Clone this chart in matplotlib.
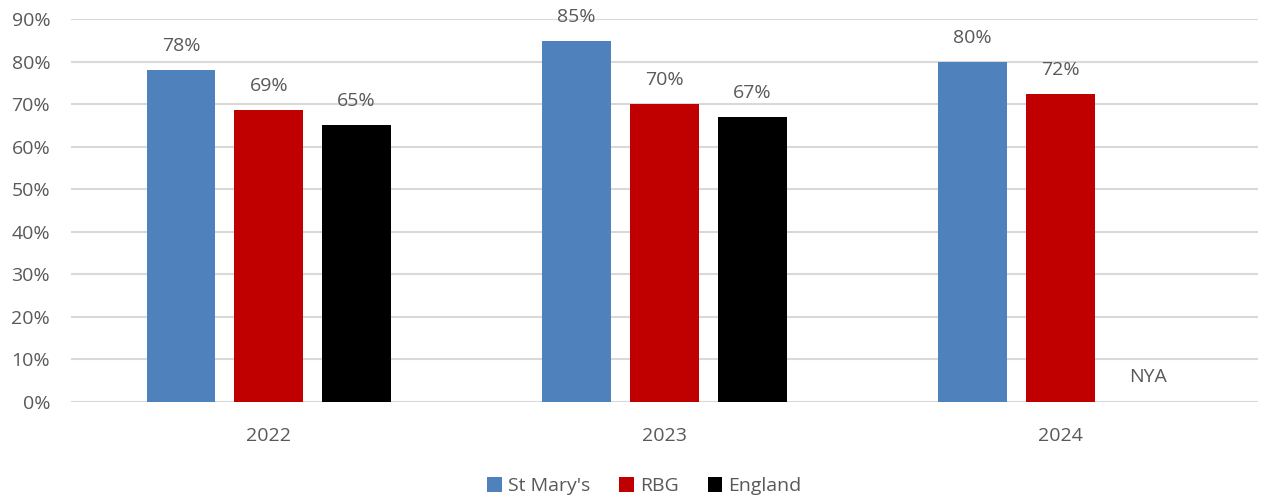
import numpy as np
import matplotlib.pyplot as plt

years = ["2022", "2023", "2024"]
st_marys = [78.0, 84.8, 79.8]
rbg = [68.6, 70.0, 72.3]
england = [65.1, 66.9, np.nan]
series = ["St Mary's", "RBG", "England"]
colors = ["#4f81bd", "#c00000", "#000000"]

plt.rcParams['font.family'] = ['Open Sans', 'DejaVu Sans']
grey = "#595959"
fs = 14

fig = plt.figure(figsize=(12.61, 4.99), dpi=100)
ax = fig.add_axes([0.0563, 0.1944, 0.9413, 0.7676])

x = np.arange(len(years))
w = 0.174
step = 0.222
for i, (name, vals, c) in enumerate(zip(series, [st_marys, rbg, england], colors)):
    pos = x + (i - 1) * step
    v = np.array(vals) / 100
    ax.bar(pos, np.nan_to_num(v), w, color=c, label=name, zorder=3)
    for p, val in zip(pos, vals):
        if np.isnan(val):
            ax.text(p, 0.058, "NYA", ha="center", va="center", fontsize=fs, color=grey)
        else:
            ax.annotate("%.0f%%" % val, (p, val / 100), xytext=(0, 11),
                        textcoords="offset points", ha="center", va="bottom",
                        fontsize=fs, color=grey)

ax.set_xlim(-0.5, 2.5)
ax.set_ylim(0, 0.9)
ax.set_yticks(np.arange(0, 0.91, 0.1))
ax.set_yticklabels(["%d%%" % t for t in range(0, 91, 10)])
ax.set_xticks(x)
ax.set_xticklabels(years)
ax.tick_params(axis="both", length=0, labelsize=fs, colors=grey)
ax.tick_params(axis="y", pad=15)
ax.tick_params(axis="x", pad=18)
ax.grid(axis="y", color="#d9d9d9", linewidth=1.5, zorder=0)
for s in ax.spines.values():
    s.set_visible(False)

ax.legend(loc="center", bbox_to_anchor=(0.483, -0.22), ncol=3, frameon=False,
          fontsize=fs, labelcolor=grey, handlelength=0.75, handleheight=0.75,
          handletextpad=0.3, columnspacing=1.5)

fig.savefig("out.png", dpi=100)
